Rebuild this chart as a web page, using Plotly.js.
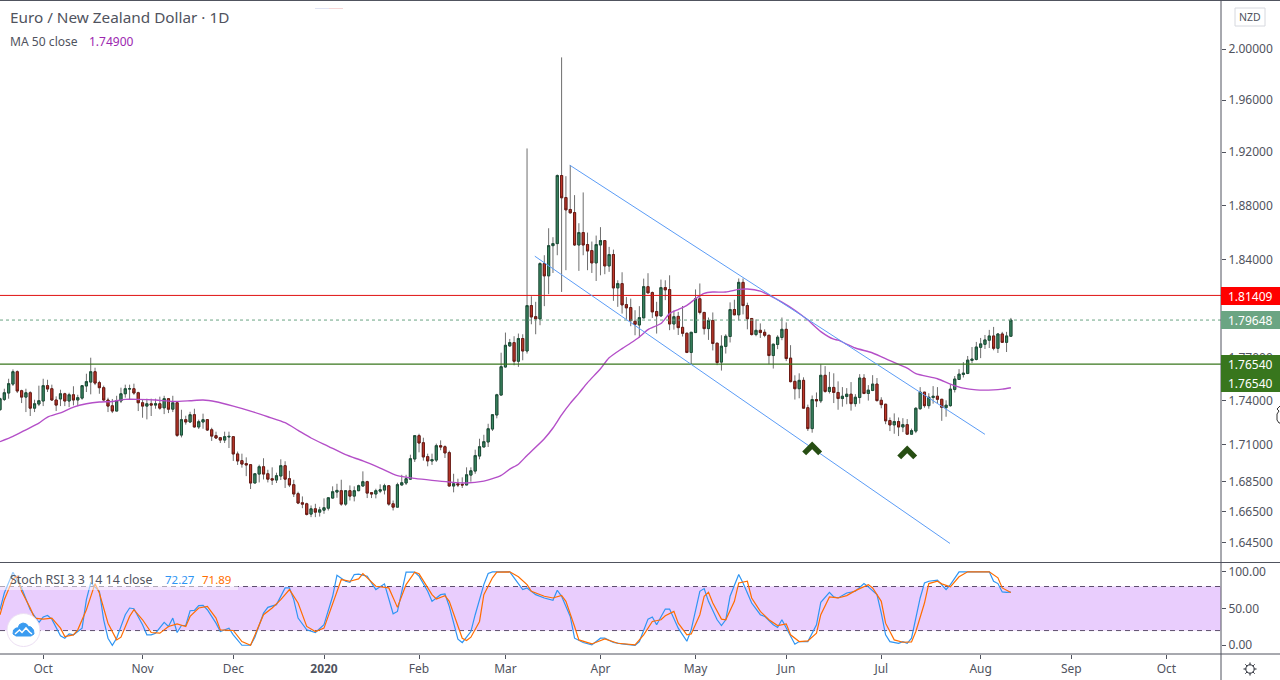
<!DOCTYPE html>
<html>
<head>
<meta charset="utf-8">
<script src="https://cdn.plot.ly/plotly-3.0.1.min.js"></script>
<style>html,body{margin:0;padding:0;background:#fff;overflow:hidden}</style>
</head>
<body>
<div id="chart" style="width:1280px;height:680px"></div>
<script>
// EUR/NZD daily bars (x is the bar number)
var opens = [
1.7338,1.7409,1.7453,1.7515,1.7601,1.7469,1.7425,1.7455,1.7349,1.7377,
1.7398,1.7504,1.7483,1.7405,1.7412,1.7448,1.7398,1.7441,1.7405,1.7418,
1.7502,1.7529,1.7601,1.7525,1.7490,1.7405,1.7365,1.7329,1.7398,1.7448,
1.7481,1.7483,1.7455,1.7386,1.7363,1.7379,1.7370,1.7379,1.7351,1.7414,
1.7342,1.7386,1.7165,1.7270,1.7254,1.7304,1.7220,1.7254,1.7270,1.7201,
1.7161,1.7147,1.7131,1.7152,1.7154,1.7037,1.6992,1.6972,1.6965,1.6842,
1.6902,1.6951,1.6904,1.6871,1.6862,1.6889,1.6958,1.6871,1.6831,1.6771,
1.6711,1.6704,1.6636,1.6671,1.6649,1.6662,1.6675,1.6742,1.6782,1.6791,
1.6702,1.6791,1.6755,1.6791,1.6822,1.6851,1.6778,1.6769,1.6788,1.6795,
1.6824,1.6704,1.6682,1.6829,1.6842,1.6868,1.7003,1.7161,1.7113,1.7019,
1.6990,1.6996,1.7093,1.7086,1.7046,1.6822,1.6837,1.6833,1.6829,1.6895,
1.6922,1.7023,1.7084,1.7118,1.7206,1.7302,1.7439,1.7634,1.7782,1.7805,
1.7674,1.7834,1.7746,1.8068,1.7989,1.7973,1.8371,1.8282,1.8502,1.8517,
1.9023,1.8858,1.8769,1.8746,1.8507,1.8598,1.8510,1.8466,1.8376,1.8507,
1.8539,1.8354,1.8437,1.8195,1.8226,1.8075,1.8054,1.7956,1.7930,1.7980,
1.8204,1.8161,1.8026,1.7994,1.8197,1.8183,1.7937,1.7991,1.7913,1.7871,
1.7736,1.7876,1.8117,1.8019,1.7904,1.7962,1.7801,1.7668,1.7778,1.7848,
1.8040,1.8002,1.8235,1.8068,1.7976,1.7862,1.7892,1.7878,1.7857,1.7714,
1.7792,1.7841,1.7899,1.7696,1.7534,1.7483,1.7541,1.7352,1.7209,1.7408,
1.7399,1.7576,1.7464,1.7492,1.7457,1.7415,1.7429,1.7445,1.7380,1.7422,
1.7557,1.7450,1.7471,1.7515,1.7403,1.7376,1.7264,1.7234,1.7257,1.7220,
1.7236,1.7171,1.7192,1.7345,1.7459,1.7366,1.7422,1.7431,1.7410,1.7352,
1.7366,1.7478,1.7547,1.7582,1.7589,1.7680,1.7687,1.7772,1.7793,1.7822,
1.7852,1.7765,1.7866,1.7807,1.7850];
var highs = [
1.7421,1.7483,1.7552,1.7617,1.7610,1.7476,1.7483,1.7465,1.7407,1.7504,
1.7552,1.7545,1.7511,1.7430,1.7476,1.7455,1.7455,1.7500,1.7441,1.7504,
1.7587,1.7699,1.7629,1.7538,1.7504,1.7421,1.7412,1.7434,1.7490,1.7511,
1.7511,1.7518,1.7462,1.7407,1.7414,1.7414,1.7414,1.7428,1.7434,1.7418,
1.7434,1.7393,1.7338,1.7297,1.7324,1.7345,1.7270,1.7311,1.7274,1.7215,
1.7188,1.7152,1.7188,1.7188,1.7156,1.7053,1.7039,1.7014,1.6968,1.6904,
1.6965,1.7008,1.6931,1.6947,1.6911,1.7001,1.6988,1.6924,1.6864,1.6784,
1.6753,1.6711,1.6693,1.6704,1.6684,1.6740,1.6744,1.6820,1.6837,1.6864,
1.6793,1.6826,1.6820,1.6831,1.6920,1.6857,1.6780,1.6804,1.6833,1.6837,
1.6826,1.6726,1.6844,1.6897,1.6897,1.7032,1.7163,1.7174,1.7147,1.7039,
1.7039,1.7107,1.7129,1.7095,1.7059,1.6904,1.6871,1.6880,1.6947,1.6947,
1.7066,1.7140,1.7167,1.7242,1.7306,1.7448,1.7734,1.7876,1.7831,1.7850,
1.7869,1.7864,1.9228,1.8135,1.8095,1.8381,1.8432,1.8630,1.8564,1.9031,
1.9934,1.9018,1.9102,1.8876,1.8667,1.8896,1.8598,1.8532,1.8576,1.8638,
1.8541,1.8493,1.8473,1.8250,1.8308,1.8130,1.8118,1.8035,1.8064,1.8262,
1.8301,1.8169,1.8095,1.8255,1.8250,1.8286,1.8033,1.8023,1.8065,1.7876,
1.7880,1.8184,1.8227,1.8023,1.7983,1.8019,1.7803,1.7857,1.7864,1.8091,
1.8110,1.8263,1.8263,1.8089,1.7978,1.7969,1.7941,1.7899,1.7859,1.7796,
1.7857,1.7983,1.7948,1.7787,1.7576,1.7590,1.7562,1.7373,1.7436,1.7457,
1.7654,1.7640,1.7600,1.7590,1.7534,1.7494,1.7487,1.7529,1.7445,1.7584,
1.7584,1.7508,1.7577,1.7557,1.7424,1.7378,1.7285,1.7313,1.7285,1.7280,
1.7274,1.7209,1.7355,1.7494,1.7461,1.7452,1.7501,1.7494,1.7412,1.7403,
1.7515,1.7571,1.7619,1.7668,1.7711,1.7774,1.7810,1.7838,1.7859,1.7895,
1.7916,1.7873,1.7881,1.7881,1.7980];
var lows = [
1.7333,1.7398,1.7414,1.7502,1.7453,1.7384,1.7322,1.7295,1.7322,1.7363,
1.7363,1.7460,1.7398,1.7329,1.7363,1.7363,1.7356,1.7368,1.7363,1.7407,
1.7460,1.7444,1.7508,1.7448,1.7398,1.7322,1.7315,1.7329,1.7384,1.7421,
1.7407,1.7441,1.7329,1.7283,1.7272,1.7295,1.7345,1.7338,1.7308,1.7315,
1.7322,1.7152,1.7149,1.7236,1.7247,1.7217,1.7206,1.7208,1.7193,1.7125,
1.7138,1.7111,1.7111,1.7077,1.6990,1.6963,1.6945,1.6888,1.6802,1.6842,
1.6846,1.6866,1.6846,1.6829,1.6842,1.6862,1.6809,1.6815,1.6749,1.6702,
1.6675,1.6627,1.6616,1.6616,1.6620,1.6638,1.6660,1.6740,1.6744,1.6691,
1.6691,1.6726,1.6720,1.6788,1.6820,1.6742,1.6742,1.6740,1.6775,1.6766,
1.6691,1.6660,1.6682,1.6824,1.6829,1.6864,1.6983,1.7048,1.6992,1.6954,
1.6963,1.6983,1.7062,1.7010,1.6820,1.6780,1.6815,1.6809,1.6829,1.6851,
1.6904,1.7001,1.7084,1.7084,1.7193,1.7279,1.7439,1.7630,1.7775,1.7646,
1.7635,1.7681,1.7728,1.7935,1.7864,1.7928,1.8064,1.8150,1.8303,1.8432,
1.8166,1.8323,1.8739,1.8500,1.8318,1.8432,1.8323,1.8303,1.8245,1.8286,
1.8294,1.8311,1.8102,1.8059,1.8011,1.7973,1.7921,1.7857,1.7841,1.7980,
1.8157,1.7980,1.7869,1.7992,1.8107,1.7893,1.7897,1.7859,1.7848,1.7731,
1.7654,1.7876,1.8005,1.7862,1.7824,1.7750,1.7647,1.7609,1.7728,1.7806,
1.8000,1.7962,1.8005,1.7899,1.7855,1.7850,1.7838,1.7843,1.7654,1.7623,
1.7759,1.7822,1.7675,1.7527,1.7408,1.7417,1.7347,1.7193,1.7181,1.7356,
1.7384,1.7455,1.7450,1.7384,1.7338,1.7359,1.7376,1.7332,1.7359,1.7380,
1.7445,1.7401,1.7466,1.7394,1.7348,1.7239,1.7192,1.7174,1.7158,1.7185,
1.7167,1.7167,1.7178,1.7338,1.7352,1.7345,1.7380,1.7383,1.7262,1.7290,
1.7359,1.7457,1.7545,1.7561,1.7584,1.7661,1.7680,1.7696,1.7760,1.7767,
1.7751,1.7732,1.7803,1.7739,1.7850];
var closes = [
1.7414,1.7455,1.7518,1.7601,1.7467,1.7425,1.7455,1.7349,1.7379,1.7400,
1.7504,1.7481,1.7405,1.7370,1.7448,1.7398,1.7441,1.7405,1.7421,1.7504,
1.7532,1.7601,1.7522,1.7490,1.7405,1.7363,1.7329,1.7400,1.7448,1.7483,
1.7483,1.7453,1.7386,1.7363,1.7379,1.7370,1.7379,1.7349,1.7414,1.7342,
1.7386,1.7163,1.7270,1.7254,1.7304,1.7220,1.7256,1.7270,1.7199,1.7158,
1.7145,1.7131,1.7154,1.7156,1.7037,1.6990,1.6969,1.6963,1.6842,1.6904,
1.6951,1.6902,1.6868,1.6862,1.6891,1.6958,1.6868,1.6829,1.6769,1.6709,
1.6702,1.6634,1.6671,1.6649,1.6664,1.6678,1.6744,1.6784,1.6793,1.6702,
1.6791,1.6755,1.6791,1.6824,1.6851,1.6775,1.6769,1.6791,1.6797,1.6824,
1.6702,1.6682,1.6831,1.6844,1.6871,1.7005,1.7161,1.7111,1.7017,1.6990,
1.6999,1.7093,1.7084,1.7044,1.6822,1.6837,1.6829,1.6829,1.6897,1.6924,
1.7026,1.7086,1.7120,1.7208,1.7304,1.7441,1.7636,1.7786,1.7805,1.7674,
1.7834,1.7746,1.8068,1.7987,1.7973,1.8371,1.8282,1.8502,1.8517,1.9023,
1.8856,1.8766,1.8744,1.8507,1.8598,1.8507,1.8463,1.8376,1.8510,1.8539,
1.8354,1.8437,1.8195,1.8226,1.8073,1.8052,1.7961,1.7935,1.7982,1.8204,
1.8159,1.8023,1.7994,1.8197,1.8181,1.7937,1.7989,1.7911,1.7871,1.7736,
1.7878,1.8117,1.8019,1.7904,1.7962,1.7799,1.7665,1.7780,1.7850,1.8040,
1.8002,1.8235,1.8068,1.7974,1.7862,1.7892,1.7876,1.7857,1.7714,1.7794,
1.7843,1.7899,1.7693,1.7532,1.7483,1.7541,1.7349,1.7209,1.7408,1.7399,
1.7576,1.7464,1.7492,1.7457,1.7415,1.7431,1.7445,1.7380,1.7424,1.7557,
1.7450,1.7473,1.7515,1.7401,1.7373,1.7262,1.7234,1.7257,1.7220,1.7236,
1.7171,1.7195,1.7348,1.7459,1.7366,1.7424,1.7431,1.7410,1.7355,1.7369,
1.7480,1.7550,1.7584,1.7591,1.7682,1.7689,1.7774,1.7796,1.7824,1.7852,
1.7765,1.7866,1.7807,1.7852,1.79648];

// MA 50
var maBars = [0,3,6,9,11,14,17,20,23,26,29,32,36,40,44,47,50,54,58,62,66,69,72,76,80,84,88,92,96,100,104,108,112,114,116,118,120,122,126,128,130,132,134,136,139,141,144,146,148,150,153,155,157,159,161,163,165,168,171,173,176,178,181,184,187,190,193,194,198,202,206,210,212,217,220,223,226,230,232,234];
var maValues = [1.7120,1.7156,1.7201,1.7247,1.7288,1.7317,1.7356,1.7379,1.7391,1.7395,1.7409,1.7409,1.7405,1.7395,1.7400,1.7405,1.7393,1.7363,1.7329,1.7290,1.7249,1.7197,1.7145,1.7089,1.7032,1.6990,1.6942,1.6891,1.6873,1.6860,1.6849,1.6842,1.6855,1.6871,1.6893,1.6935,1.6968,1.7027,1.7140,1.7213,1.7303,1.7382,1.7451,1.7525,1.7622,1.7698,1.7763,1.7802,1.7845,1.7897,1.7940,1.8011,1.8040,1.8070,1.8117,1.8155,1.8165,1.8165,1.8184,1.8187,1.8172,1.8143,1.8093,1.8035,1.7965,1.7883,1.7829,1.7822,1.7767,1.7732,1.7678,1.7626,1.7587,1.7552,1.7515,1.7487,1.7475,1.7475,1.7480,1.7490];

// Stoch RSI
var kBars = [0,1,3,5,7,9,10,11,12,13,14,15,16,17,19,20,21,23,24,25,26,27,29,30,31,33,34,35,36,38,39,40,41,42,43,44,45,46,47,48,50,51,53,54,56,58,59,61,62,64,66,67,68,69,71,73,75,77,78,80,81,82,83,85,87,89,91,92,94,96,97,99,100,102,103,104,106,107,109,110,112,113,114,118,119,121,122,124,126,128,129,130,132,133,135,137,139,140,142,144,147,148,150,151,152,154,155,157,159,160,162,163,164,166,167,168,169,171,172,174,176,177,179,180,181,182,184,185,187,189,190,192,193,194,196,198,200,201,203,204,205,206,208,209,210,211,213,214,215,217,219,220,222,229,230,231,232,233,234];
var kValues = [48.4,71.2,99.5,78.1,48.4,31.1,38.4,40.6,35.6,23.3,12.8,9.6,15.5,14.2,23.3,62.1,84.9,73.5,34.7,9.6,0,9.6,41.6,50.7,49.8,27.9,14.2,14.2,16.4,31.1,25.6,37.0,17.4,26.9,26.9,47.0,47.5,53.9,54.3,48.4,30.1,18.7,23.3,14.2,0,0,11.0,43.8,51.6,55.3,78.1,78.1,62.1,37.0,21.0,17.4,27.9,66.7,95.4,87.2,85.8,96.3,96.8,94.1,75.8,83.6,42.9,46.1,99.5,99.5,94.1,73.5,59.8,68.9,69.9,53.0,8.2,3.7,18.7,41.6,82.6,97.7,100,100,91.8,75.8,78.1,68.9,64.4,61.2,74.9,66.7,39.3,9.6,3.7,0.5,9.6,9.6,3.7,1.8,0,5.0,35.6,38.4,27.9,49.3,49.3,23.3,5.5,21.0,73.5,77.2,59.8,34.7,26.9,34.7,66.7,96.3,84.9,57.5,41.6,39.3,27.9,24.2,34.7,23.3,1.4,5.0,5.0,27.9,58.4,72.1,65.8,64.4,71.2,73.5,84.0,79.5,68.9,43.8,14.2,5.0,2.7,5.0,2.7,9.6,64.4,84.9,87.2,88.6,75.8,82.6,100,100,87.2,84.0,72.6,72.0,72.27];
var dBars = [0,1,3,4,5,7,8,10,12,14,15,17,18,20,22,23,25,27,28,30,31,33,35,37,39,41,43,44,46,48,50,51,54,56,58,59,61,63,65,67,69,71,73,75,78,79,81,83,84,87,90,92,94,96,97,98,100,101,103,104,106,107,108,109,111,112,114,115,118,120,122,123,126,128,130,131,133,134,137,140,143,147,149,151,153,154,156,157,159,160,162,163,164,165,167,168,170,171,173,174,176,178,180,182,183,185,187,189,190,192,194,196,198,201,202,204,205,207,209,211,212,214,215,217,218,220,222,224,229,231,232,234];
var dValues = [41.6,62.1,90.4,94.1,73.5,50.7,37.0,35.6,37.0,23.3,11.9,14.2,21.0,48.4,84.0,71.2,30.1,7.3,11.0,39.3,48.4,34.7,17.4,16.4,25.6,29.2,25.6,39.3,50.7,53.0,37.0,21.0,20.1,5.0,0,14.2,41.6,50.7,62.1,75.8,57.5,25.6,18.7,23.3,71.2,89.5,87.2,90.4,97.7,80.4,78.1,51.6,82.6,99.5,97.3,87.2,68.9,63.0,67.6,59.8,25.6,9.6,6.4,11.0,32.4,68.9,91.8,99.5,100,93.2,82.6,73.5,66.7,64.4,68.0,59.8,25.6,7.3,1.8,8.7,2.7,0.5,14.2,32.4,34.7,40.2,46.1,30.1,14.2,15.5,41.6,66.7,72.1,57.5,35.6,34.7,59.8,84.9,87.2,64.4,46.1,34.7,26.9,29.2,14.2,5.0,5.9,16.4,41.6,65.8,64.4,67.6,74.4,82.6,78.1,59.8,30.1,7.3,4.1,4.6,18.7,57.5,84.0,87.2,83.6,79.5,93.2,100,100,91.8,78.1,71.89];

// drawn levels and channel
var levelHigh = 1.81409, levelLast = 1.79648, levelSupport = 1.76540;
var upperBars = [131.9, 228], upperPrices = [1.9101, 1.7170];
var lowerBars = [123.8, 219.9], lowerPrices = [1.8425, 1.6444];
var markBars = [188, 210], markPrices = [1.7095, 1.7068];

// axes
var priceTicks = [2.00, 1.96, 1.92, 1.88, 1.84, 1.77, 1.74, 1.71, 1.685, 1.665, 1.645];
var priceTickText = ["2.00000","1.96000","1.92000","1.88000","1.84000","1.77000","1.74000","1.71000","1.68500","1.66500","1.64500"];
var stochTicks = [0, 50, 100];
var stochTickText = ["0.00","50.00","100.00"];
var monthBars = [10, 33, 54, 75, 97, 117, 139, 161, 182, 204, 227, 248, 270];
var monthText = ["Oct","Nov","Dec","<b>2020</b>","Feb","Mar","Apr","May","Jun","Jul","Aug","Sep","Oct"];

var W = 1280, H = 680, PLOT_R = 1221, PANE_Y = 562.5, AXIS_Y = 654, BAR_PX = 4.32;
function px(x) { return x / W; }
function py(y) { return 1 - y / H; }
var lastBar = PLOT_R / BAR_PX;
var FONT = "'Noto Sans', sans-serif", GREY = "#50535e";

var bars = opens.map(function (o, i) { return i; });
var bodyHi = opens.map(function (o, i) { return Math.max(o, closes[i]); });
var bodyLo = opens.map(function (o, i) { return Math.min(o, closes[i]); });

function hline(price, color, dash, width) {
  return { x: [0, lastBar], y: [price, price], mode: "lines", type: "scatter", line: { color: color, width: width || 1, dash: dash || "solid" }, hoverinfo: "skip", showlegend: false };
}
function chevron(i) {
  var d = 1.85, f = 0.99683;
  return { x: [markBars[i] - d, markBars[i], markBars[i] + d], y: [markPrices[i] * f, markPrices[i], markPrices[i] * f], mode: "lines", type: "scatter", line: { color: "#274e13", width: 5.5 }, hoverinfo: "skip", showlegend: false };
}

var traces = [
  // wicks first, then a wickless candle for the dark outlined bodies
  { type: "candlestick", x: bars, open: opens, high: highs, low: lows, close: closes, whiskerwidth: 0,
    increasing: { line: { color: "#6e6e6e", width: 1 }, fillcolor: "#3d8a64" },
    decreasing: { line: { color: "#6e6e6e", width: 1 }, fillcolor: "#c0392b" }, hoverinfo: "skip", showlegend: false },
  { type: "candlestick", x: bars, open: opens, high: bodyHi, low: bodyLo, close: closes, whiskerwidth: 0,
    increasing: { line: { color: "#1c4f38", width: 1 }, fillcolor: "#3d8a64" },
    decreasing: { line: { color: "#6b1a14", width: 1 }, fillcolor: "#c0392b" }, hoverinfo: "skip", showlegend: false },
  { x: maBars, y: maValues, mode: "lines", type: "scatter", line: { color: "#b44fc8", width: 1.4, shape: "spline", smoothing: 0.6 }, hoverinfo: "skip", showlegend: false },
  hline(levelHigh, "#e01010"),
  hline(levelSupport, "#38761d", "solid", 1.4),
  hline(levelLast, "#6ba583", "dot"),
  { x: upperBars, y: upperPrices, mode: "lines", type: "scatter", line: { color: "#5b9cf6", width: 1 }, hoverinfo: "skip", showlegend: false },
  { x: lowerBars, y: lowerPrices, mode: "lines", type: "scatter", line: { color: "#5b9cf6", width: 1 }, hoverinfo: "skip", showlegend: false },
  chevron(0), chevron(1),
  { x: kBars, y: kValues, xaxis: "x2", yaxis: "y2", mode: "lines", type: "scatter", line: { color: "#2f95f3", width: 1.2 }, hoverinfo: "skip", showlegend: false },
  { x: dBars, y: dValues, xaxis: "x2", yaxis: "y2", mode: "lines", type: "scatter", line: { color: "#ff6d00", width: 1.2 }, hoverinfo: "skip", showlegend: false }
];

function frameLine(x0, y0, x1, y1) {
  return { type: "line", xref: "paper", yref: "paper", x0: px(x0), y0: py(y0), x1: px(x1), y1: py(y1), line: { color: "#50535e", width: 1 }, layer: "above" };
}
function box(y0, y1, color) {
  return { type: "rect", xref: "paper", yref: "paper", x0: px(PLOT_R), x1: 1, y0: py(y0), y1: py(y1), fillcolor: color, line: { width: 0 }, layer: "above" };
}
function pxPath(pts, close) {
  return "M" + pts.map(function (p) { return px(p[0]) + "," + py(p[1]); }).join(" L") + (close ? " Z" : "");
}
function pathShape(pts, fill, stroke, width, close) {
  return { type: "path", xref: "paper", yref: "paper", path: pxPath(pts, close), fillcolor: fill, line: { color: stroke, width: width }, layer: "above" };
}
function circle(cx, cy, r, fill, stroke) {
  return { type: "circle", xref: "paper", yref: "paper", x0: px(cx - r), x1: px(cx + r), y0: py(cy - r), y1: py(cy + r), fillcolor: fill, line: { color: stroke, width: 1 }, layer: "above" };
}

var shapes = [
  // oscillator band
  { type: "rect", xref: "x2", yref: "y2", x0: 0, x1: lastBar, y0: 20, y1: 80, fillcolor: "#e9cdfd", line: { width: 0 }, layer: "below" },
  { type: "line", xref: "x2", yref: "y2", x0: 0, x1: lastBar, y0: 80, y1: 80, line: { color: "#5d4e6d", width: 1, dash: "5px,4px" }, layer: "below" },
  { type: "line", xref: "x2", yref: "y2", x0: 0, x1: lastBar, y0: 20, y1: 20, line: { color: "#5d4e6d", width: 1, dash: "5px,4px" }, layer: "below" },
  // pale strip behind the oscillator legend
  { type: "rect", xref: "paper", yref: "paper", x0: 0, x1: px(238), y0: py(571), y1: py(590), fillcolor: "rgba(255,255,255,0.5)", line: { width: 0 }, layer: "above" },
  frameLine(0, 0.5, W, 0.5),
  frameLine(0, PANE_Y, W, PANE_Y),
  frameLine(0, AXIS_Y, W, AXIS_Y),
  frameLine(PLOT_R, 0, PLOT_R, H),
  box(287, 305, "#ff0000"),
  box(311, 329, "#6ba583"),
  box(355, 392, "#38761d"),
  // faint mark at the top of the pane
  { type: "line", xref: "paper", yref: "paper", x0: px(315), x1: px(329), y0: py(8.5), y1: py(8.5), line: { color: "#dfe3f3", width: 1 }, layer: "above" },
  { type: "line", xref: "paper", yref: "paper", x0: px(329), x1: px(343), y0: py(8.5), y1: py(8.5), line: { color: "#f6d6d6", width: 1 }, layer: "above" },
  // currency button
  { type: "rect", xref: "paper", yref: "paper", x0: px(1235), x1: px(1265), y0: py(8), y1: py(26), fillcolor: "#fff", line: { color: "#d6d8de", width: 1 }, layer: "above" },
  // logo
  circle(23.5, 630, 16.5, "#ffffff", "#ecdff3"),
  pathShape([[13,634],[13.5,630],[16,628],[18,628],[19.5,624.5],[23,623],[26.5,624],[28.5,626.5],[31,627],[33.5,630],[34,634],[31,636],[16,636]], "#3a9bf0", "#3a9bf0", 1, true),
  pathShape([[15,634],[19.5,630],[22,632.5],[26,628],[29.5,632],[32,634]], "rgba(0,0,0,0)", "#ffffff", 1.5, false),
  // settings icon
  circle(1250, 669, 4.2, "#ffffff", "#131722"),
  pathShape([[1250,662.5],[1250,664.5]], "rgba(0,0,0,0)", "#131722", 1, false),
  pathShape([[1250,673.5],[1250,675.5]], "rgba(0,0,0,0)", "#131722", 1, false),
  pathShape([[1243.5,669],[1245.5,669]], "rgba(0,0,0,0)", "#131722", 1, false),
  pathShape([[1254.5,669],[1256.5,669]], "rgba(0,0,0,0)", "#131722", 1, false),
  pathShape([[1245.4,664.4],[1246.8,665.8]], "rgba(0,0,0,0)", "#131722", 1, false),
  pathShape([[1253.2,672.2],[1254.6,673.6]], "rgba(0,0,0,0)", "#131722", 1, false),
  pathShape([[1245.4,673.6],[1246.8,672.2]], "rgba(0,0,0,0)", "#131722", 1, false),
  pathShape([[1253.2,665.8],[1254.6,664.4]], "rgba(0,0,0,0)", "#131722", 1, false),
  // mouse cursor cut by the window edge
  pathShape([[1280,406],[1277,409],[1279,411],[1277,414],[1277,420],[1279,423],[1280,423]], "#ffffff", "#333333", 1, false)
];

function note(text, x, y, size, color, anchor, bg) {
  return { xref: "paper", yref: "paper", x: px(x), y: py(y), text: text, showarrow: false, xanchor: anchor || "left", yanchor: "middle", font: { family: FONT, size: size, color: color }, bgcolor: bg || "rgba(0,0,0,0)", borderpad: 0 };
}
var annotations = [
  note("Euro / New Zealand Dollar · 1D", 8.5, 17, 15.3, GREY),
  note("MA 50 close", 8.5, 41.5, 12.1, GREY),
  note("1.74900", 88, 41.5, 12, "#9c27b0"),
  note("Stoch RSI 3 3 14 14 close", 8.5, 579.5, 12.4, GREY, "left"),
  note("72.27", 164, 579.5, 11.5, "#2f95f3"),
  note("71.89", 201, 579.5, 11.5, "#ff6d00"),
  note("NZD", 1250, 17, 10.5, GREY, "center"),
  note("1.81409", 1250.5, 296, 12, "#ffffff", "center"),
  note("1.79648", 1250.5, 320.5, 12, "#ffffff", "center"),
  note("1.76540", 1250.5, 364.5, 12, "#ffffff", "center"),
  note("1.76540", 1250.5, 383, 12, "#ffffff", "center")
];

var layout = {
  width: W, height: H, margin: { l: 0, r: 0, t: 0, b: 0 },
  paper_bgcolor: "#ffffff", plot_bgcolor: "#ffffff",
  font: { family: FONT, size: 12, color: GREY },
  showlegend: false, hovermode: false, dragmode: false,
  xaxis: { domain: [0, px(PLOT_R)], range: [0, lastBar], anchor: "y", showgrid: false, zeroline: false, showticklabels: false, ticks: "", showline: false, rangeslider: { visible: false } },
  yaxis: { domain: [py(PANE_Y), 1], type: "log", range: [0.212727, 0.309465], anchor: "x", side: "right", showgrid: false, zeroline: false, tickmode: "array", tickvals: priceTicks, ticktext: priceTickText, ticks: "outside", ticklen: 4, tickcolor: "#50535e", tickfont: { family: FONT, size: 12, color: GREY }, showline: false },
  xaxis2: { domain: [0, px(PLOT_R)], range: [0, lastBar], anchor: "y2", showgrid: false, zeroline: false, tickmode: "array", tickvals: monthBars, ticktext: monthText, ticks: "outside", ticklen: 4, tickcolor: "#50535e", tickfont: { family: FONT, size: 12, color: GREY }, showline: false },
  yaxis2: { domain: [py(AXIS_Y), py(PANE_Y)], range: [-11.9, 112.7], anchor: "x2", side: "right", showgrid: false, zeroline: false, tickmode: "array", tickvals: stochTicks, ticktext: stochTickText, ticks: "outside", ticklen: 4, tickcolor: "#50535e", tickfont: { family: FONT, size: 12, color: GREY }, showline: false },
  shapes: shapes, annotations: annotations
};

Plotly.newPlot("chart", traces, layout, { displayModeBar: false, staticPlot: true });
</script>
</body>
</html>
